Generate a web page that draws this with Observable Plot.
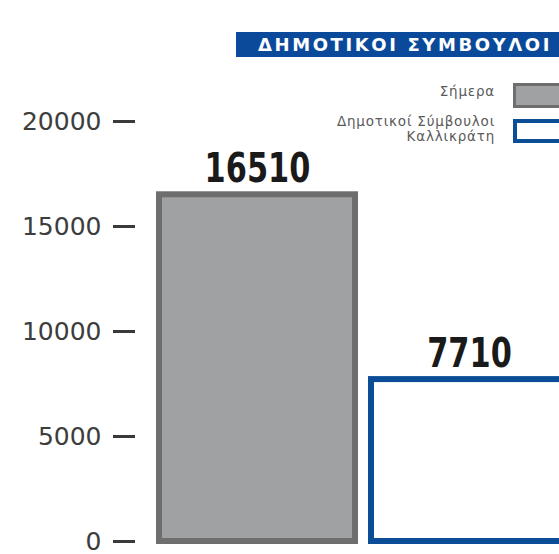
<!DOCTYPE html>
<html>
<head>
<meta charset="utf-8">
<script src="https://cdn.jsdelivr.net/npm/d3@7"></script>
<script src="https://cdn.jsdelivr.net/npm/@observablehq/plot@0.6"></script>
<style>
  html, body { margin: 0; padding: 0; background: #fff; overflow: hidden; }
  #wrap { position: relative; width: 559px; height: 554px; overflow: hidden; }
  #chart { position: absolute; left: 0; top: 0; }
  .title {
    position: absolute; left: 236px; top: 32px; width: 340px; height: 25px;
    background: #0b4a9a; color: #fff; font-family: "DejaVu Sans", sans-serif;
    font-weight: bold; font-size: 18px; line-height: 25px; padding-left: 22px;
    letter-spacing: 2.6px; white-space: nowrap; box-sizing: border-box;
  }
  .legend-text {
    position: absolute; right: 64px; font-family: "DejaVu Sans", sans-serif;
    font-size: 13.5px; color: #5a5a5a; text-align: right; line-height: 15px; white-space: nowrap;
    letter-spacing: 0.8px;
  }
  .sw { position: absolute; left: 513px; width: 60px; box-sizing: border-box; }
</style>
</head>
<body>
<div id="wrap">
  <div id="chart"></div>
  <div class="title" id="title"></div>
  <div class="legend-text" id="lg1" style="top:84px;"></div>
  <div class="sw" style="top:83px;height:25px;background:#a0a1a3;border:3px solid #6e6e6e;"></div>
  <div class="legend-text" id="lg2" style="top:114px;"></div>
  <div class="sw" style="top:119px;height:24px;background:#fff;border:4px solid #0b4d97;"></div>
</div>
<script>
const titleText = "ΔΗΜΟΤΙΚΟΙ ΣΥΜΒΟΥΛΟΙ";
const categories = ["Σήμερα", "Δημοτικοί Σύμβουλοι Καλλικράτη"];
const legendLabels = ["Σήμερα", "Δημοτικοί Σύμβουλοι<br>Καλλικράτη"];
const values = [16510, 7710];
const yTicks = [0, 5000, 10000, 15000, 20000];

document.getElementById("title").textContent = titleText;
document.getElementById("lg1").innerHTML = legendLabels[0];
document.getElementById("lg2").innerHTML = legendLabels[1];

const data = categories.map((c, i) => ({category: c, value: values[i]}));

const chart = Plot.plot({
  width: 559,
  height: 554,
  marginLeft: 135,
  marginRight: 0,
  marginTop: 0,
  marginBottom: 0,
  style: {fontFamily: "DejaVu Sans, sans-serif", fontSize: "25px", color: "#333", background: "transparent", overflow: "visible"},
  x: {type: "band", domain: categories, range: [158, 568], paddingInner: 0.075, paddingOuter: 0, axis: null},
  y: {domain: [0, 20000], range: [541, 121]},
  marks: [
    Plot.axisY({ticks: yTicks, tickSize: 22, tickPadding: 12, strokeWidth: 3, stroke: "#3a3a3a", fill: "#3d3d3d", tickFormat: d => String(d), label: null, fontSize: 25}),
    Plot.barY(data.filter(d => d.category === categories[0]), {x: "category", y: "value", fill: "#a0a1a3", stroke: "#6e6e6e", strokeWidth: 6}),
    Plot.barY(data.filter(d => d.category === categories[1]), {x: "category", y: "value", fill: "#ffffff", stroke: "#0b4d97", strokeWidth: 6}),
    Plot.text(data, {x: "category", y: "value", text: d => String(d.value), dy: -13, lineAnchor: "bottom",
      fontSize: 40, fontWeight: "bold", fontFamily: "DejaVu Sans, sans-serif", fill: "#1a1a1a"})
  ]
});
document.getElementById("chart").appendChild(chart);
// condense the value labels (reference uses a narrow bold face)
d3.select(chart).selectAll('g[aria-label="text"] text').each(function() {
  const w = this.getComputedTextLength();
  this.setAttribute("textLength", (w * 0.76).toFixed(1));
  this.setAttribute("lengthAdjust", "spacingAndGlyphs");
});
</script>
</body>
</html>
